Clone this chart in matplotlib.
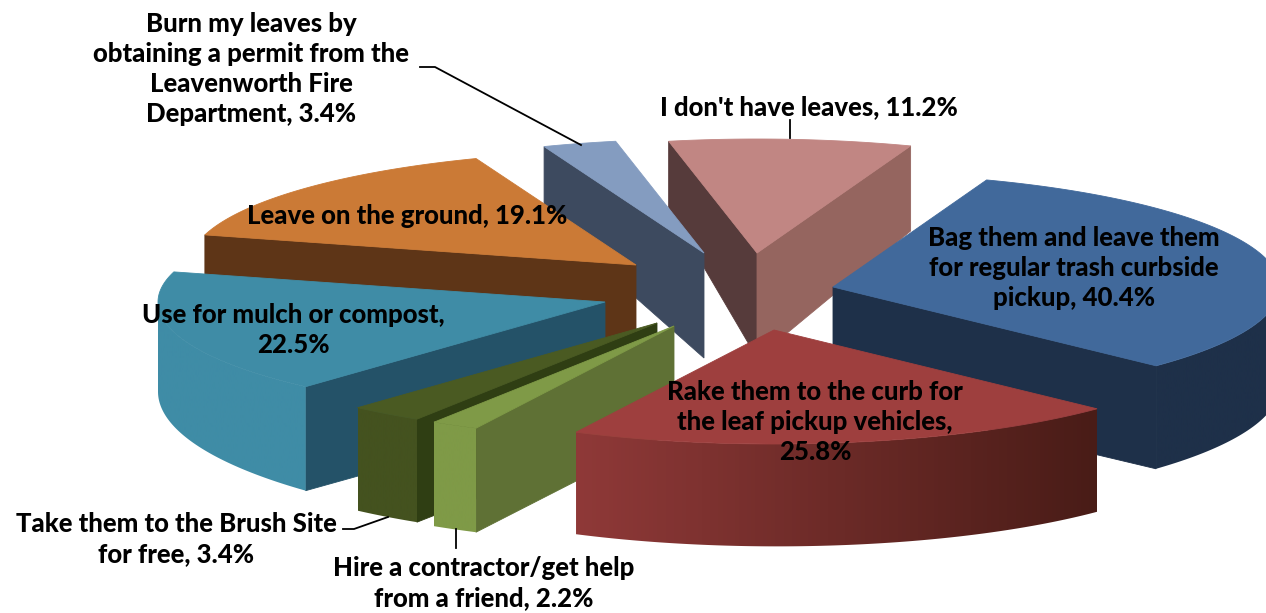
import numpy as np
import matplotlib
matplotlib.use('Agg')
import matplotlib.pyplot as plt
from matplotlib.patches import Polygon

# data, clockwise from the top of the pie
categories = ['Bag', 'Rake', 'Hire', 'Take', 'Mulch', 'Leave', 'Burn', 'None']
values = [40.4, 25.8, 2.2, 3.4, 22.5, 19.1, 3.4, 11.2]
labels = [
    'Bag them and leave them\nfor regular trash curbside\npickup, 40.4%',
    'Rake them to the curb for\nthe leaf pickup vehicles,\n25.8%',
    'Hire a contractor/get help\nfrom a friend, 2.2%',
    'Take them to the Brush Site\nfor free, 3.4%',
    'Use for mulch or compost,\n22.5%',
    'Leave on the ground, 19.1%',
    'Burn my leaves by\nobtaining a permit from the\nLeavenworth Fire\nDepartment, 3.4%',
    "I don't have leaves, 11.2%",
]

# layout and colours
label_pos = [(1074, 268), (815, 422), (484, 583), (176, 539), (293, 330),
             (407, 216), (251, 69), (809, 107)]
tips = [(833, 287), (774, 330), (674, 326), (657, 323), (605, 302),
        (636, 265), (704, 253), (757, 253)]
# depth of the block at the first corner, last corner and tip of each slice
depths = [(92, 103, 105), (103, 102, 105), (104, 104, 105), (103, 103, 105),
          (104, 85, 105), (70, 70, 100), (70, 66, 105), (66, 85, 105)]
top_colors = ['#41699B', '#9E3F3E', '#7F9A47', '#4A5A22', '#3F8CA6',
              '#CB7A36', '#849CC0', '#C18683']
cut_colors = ['#1E3049', '#1E3049', '#5F7135', '#2F3E13', '#245268',
              '#5E3517', '#3D4A5F', '#95655F']
arc_left = ['#1E3049', '#8F3938', '#7F9A47', '#44521F', '#3F8CA6',
            '#5E3517', '#3D4A5F', '#95655F']
arc_right = ['#1E3049', '#491C17', '#7F9A47', '#44521F', '#3F8CA6',
             '#5E3517', '#3D4A5F', '#95655F']
near_cut_color = '#563B3B'  # the left face of the "don't have leaves" slice
draw_order = [7, 6, 5, 4, 3, 2, 0, 1]
start_angle = 69.9
rx, ry = 447, 114

fig = plt.figure(figsize=(12.66, 6.13), dpi=100)
ax = fig.add_axes([0, 0, 1, 1])

sweeps = np.array(values) / sum(values) * 360
first = start_angle - np.concatenate([[0], np.cumsum(sweeps)[:-1]])


def rim(tip, deg):
    t = np.radians(deg)
    return tip[0] + rx * np.cos(t), tip[1] - ry * np.sin(t)


def add_poly(pts, color, z):
    ax.add_patch(Polygon(pts, closed=True, facecolor=color, edgecolor=color, lw=0.6, zorder=z))


for z, i in enumerate(draw_order):
    tip = tips[i]
    a0 = first[i]
    a1 = a0 - sweeps[i]
    d0, d1, d_tip = depths[i]

    # cut faces first
    for edge, deg, d, col in [('ccw', a0, d0, cut_colors[i]), ('cw', a1, d1, cut_colors[i])]:
        c = np.cos(np.radians(deg))
        if (edge == 'ccw' and c < 0) or (edge == 'cw' and c > 0):
            if i == 7 and edge == 'ccw':
                col = near_cut_color
            x, y = rim(tip, deg)
            add_poly([tip, (x, y), (x, y + d), (tip[0], tip[1] + d_tip)], col, z)

    # outer wall, only the part that faces the viewer
    angles = np.linspace(a0, a1, 120)
    wall_depth = np.linspace(d0, d1, 120)
    front = np.sin(np.radians(angles)) < 0
    if front.any():
        top_edge = [rim(tip, a) for a in angles[front]]
        low_edge = [(p[0], p[1] + d) for p, d in zip(top_edge, wall_depth[front])]
        wall = Polygon(top_edge + low_edge[::-1], closed=True, facecolor='none',
                       edgecolor='none', zorder=z)
        ax.add_patch(wall)
        xs = [p[0] for p in top_edge]
        c0 = np.array(matplotlib.colors.to_rgb(arc_left[i]))
        c1 = np.array(matplotlib.colors.to_rgb(arc_right[i]))
        grad = np.linspace(c0, c1, 128)[np.newaxis, :, :]
        im = ax.imshow(grad, extent=(min(xs), max(xs), 613, 0), aspect='auto', zorder=z)
        im.set_clip_path(wall)

    # top of the slice
    add_poly([tip] + [rim(tip, a) for a in angles], top_colors[i], z)

# leader lines
ax.plot([420, 435, 581], [67, 67, 145], color='black', lw=1.3, zorder=20)
ax.plot([790, 790], [120, 138], color='black', lw=1.3, zorder=20)
ax.plot([343, 354, 388], [529, 529, 517], color='black', lw=1.3, zorder=20)
ax.plot([456, 456], [529, 548], color='black', lw=1.3, zorder=20)

for text, (x, y) in zip(labels, label_pos):
    ax.text(x, y, text, ha='center', va='center', family='Lato', weight='black',
            fontsize=18.5, linespacing=1.3, color='black', zorder=30)

ax.set_xlim(0, 1266)
ax.set_ylim(613, 0)
ax.axis('off')

fig.savefig('out.png', dpi=100)
